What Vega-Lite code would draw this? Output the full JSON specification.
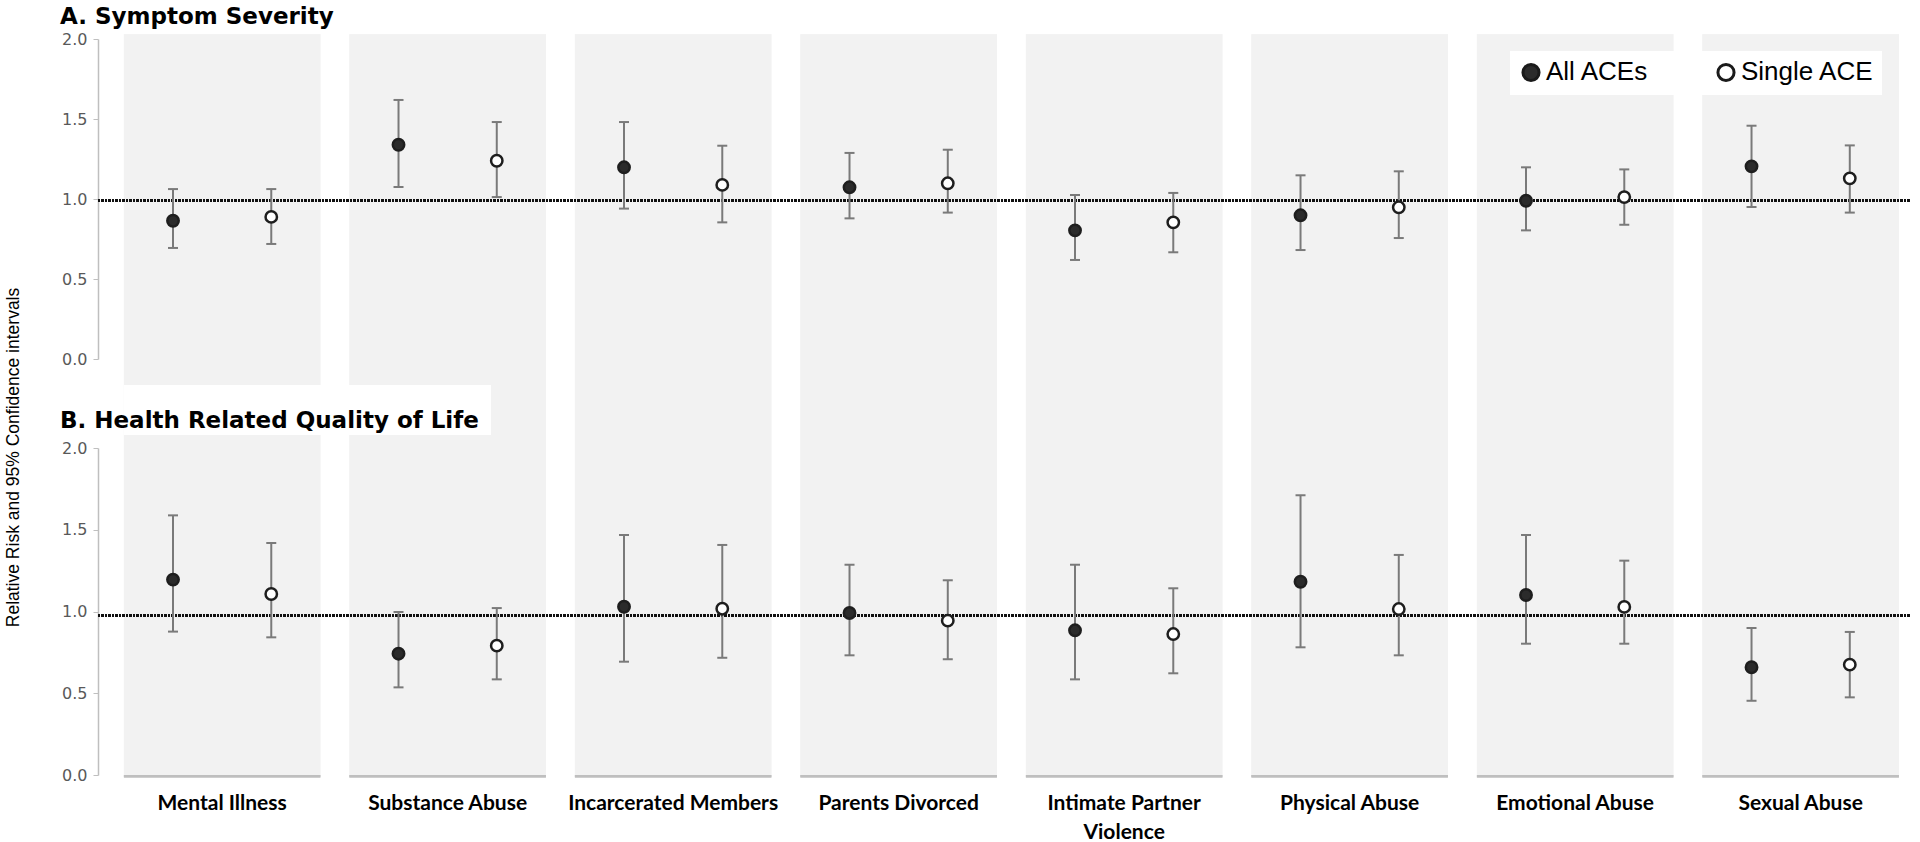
{
  "$schema": "https://vega.github.io/schema/vega-lite/v6.json",
  "autosize": {"type": "pad"},
  "padding": {"left": 4, "top": 6, "right": 0, "bottom": 0},
  "background": "white",
  "bounds": "flush",
  "spacing": 89,
  "config": {
    "view": {"stroke": null},
    "font": "Liberation Sans",
    "axis": {"grid": false},
    "title": {"font": "DejaVu Sans", "fontWeight": "bold", "color": "black", "fontSize": 23}
  },
  "data": {"values": [
    {"panel": "A", "category": "Mental Illness", "series": "All ACEs", "rr": 0.864, "lo": 0.694, "hi": 1.062},
    {"panel": "A", "category": "Mental Illness", "series": "Single ACE", "rr": 0.888, "lo": 0.719, "hi": 1.062},
    {"panel": "A", "category": "Substance Abuse", "series": "All ACEs", "rr": 1.339, "lo": 1.075, "hi": 1.619},
    {"panel": "A", "category": "Substance Abuse", "series": "Single ACE", "rr": 1.239, "lo": 1.012, "hi": 1.481},
    {"panel": "A", "category": "Incarcerated Members", "series": "All ACEs", "rr": 1.198, "lo": 0.94, "hi": 1.481},
    {"panel": "A", "category": "Incarcerated Members", "series": "Single ACE", "rr": 1.088, "lo": 0.854, "hi": 1.333},
    {"panel": "A", "category": "Parents Divorced", "series": "All ACEs", "rr": 1.073, "lo": 0.879, "hi": 1.288},
    {"panel": "A", "category": "Parents Divorced", "series": "Single ACE", "rr": 1.098, "lo": 0.915, "hi": 1.308},
    {"panel": "A", "category": "Intimate Partner Violence", "series": "All ACEs", "rr": 0.804, "lo": 0.619, "hi": 1.025},
    {"panel": "A", "category": "Intimate Partner Violence", "series": "Single ACE", "rr": 0.854, "lo": 0.667, "hi": 1.038},
    {"panel": "A", "category": "Physical Abuse", "series": "All ACEs", "rr": 0.898, "lo": 0.681, "hi": 1.148},
    {"panel": "A", "category": "Physical Abuse", "series": "Single ACE", "rr": 0.948, "lo": 0.756, "hi": 1.173},
    {"panel": "A", "category": "Emotional Abuse", "series": "All ACEs", "rr": 0.989, "lo": 0.804, "hi": 1.198},
    {"panel": "A", "category": "Emotional Abuse", "series": "Single ACE", "rr": 1.012, "lo": 0.839, "hi": 1.185},
    {"panel": "A", "category": "Sexual Abuse", "series": "All ACEs", "rr": 1.204, "lo": 0.95, "hi": 1.458},
    {"panel": "A", "category": "Sexual Abuse", "series": "Single ACE", "rr": 1.129, "lo": 0.915, "hi": 1.335},
    {"panel": "B", "category": "Mental Illness", "series": "All ACEs", "rr": 1.195, "lo": 0.877, "hi": 1.588},
    {"panel": "B", "category": "Mental Illness", "series": "Single ACE", "rr": 1.107, "lo": 0.842, "hi": 1.419},
    {"panel": "B", "category": "Substance Abuse", "series": "All ACEs", "rr": 0.742, "lo": 0.536, "hi": 0.997},
    {"panel": "B", "category": "Substance Abuse", "series": "Single ACE", "rr": 0.791, "lo": 0.585, "hi": 1.021},
    {"panel": "B", "category": "Incarcerated Members", "series": "All ACEs", "rr": 1.029, "lo": 0.693, "hi": 1.468},
    {"panel": "B", "category": "Incarcerated Members", "series": "Single ACE", "rr": 1.017, "lo": 0.717, "hi": 1.407},
    {"panel": "B", "category": "Parents Divorced", "series": "All ACEs", "rr": 0.991, "lo": 0.732, "hi": 1.286},
    {"panel": "B", "category": "Parents Divorced", "series": "Single ACE", "rr": 0.944, "lo": 0.708, "hi": 1.191},
    {"panel": "B", "category": "Intimate Partner Violence", "series": "All ACEs", "rr": 0.885, "lo": 0.585, "hi": 1.286},
    {"panel": "B", "category": "Intimate Partner Violence", "series": "Single ACE", "rr": 0.862, "lo": 0.622, "hi": 1.142},
    {"panel": "B", "category": "Physical Abuse", "series": "All ACEs", "rr": 1.182, "lo": 0.781, "hi": 1.711},
    {"panel": "B", "category": "Physical Abuse", "series": "Single ACE", "rr": 1.015, "lo": 0.732, "hi": 1.346},
    {"panel": "B", "category": "Emotional Abuse", "series": "All ACEs", "rr": 1.101, "lo": 0.803, "hi": 1.468},
    {"panel": "B", "category": "Emotional Abuse", "series": "Single ACE", "rr": 1.028, "lo": 0.803, "hi": 1.311},
    {"panel": "B", "category": "Sexual Abuse", "series": "All ACEs", "rr": 0.659, "lo": 0.454, "hi": 0.899},
    {"panel": "B", "category": "Sexual Abuse", "series": "Single ACE", "rr": 0.675, "lo": 0.475, "hi": 0.875}
  ]},
  "vconcat": [
    {
      "width": 1812,
      "height": 320,
      "title": {"text": "A. Symptom Severity", "anchor": "start", "frame": "group", "dx": -38, "offset": 2},
      "transform": [{"filter": "datum.panel === 'A'"}],
      "encoding": {
        "x": {"field": "category", "type": "nominal",
              "sort": ["Mental Illness", "Substance Abuse", "Incarcerated Members", "Parents Divorced", "Intimate Partner Violence", "Physical Abuse", "Emotional Abuse", "Sexual Abuse"],
              "scale": {"paddingInner": 0.1286, "paddingOuter": 0.082, "align": 0.7}, "axis": null}
      },
      "layer": [
        {
          "mark": {"type": "bar", "color": "#f2f2f2"},
          "encoding": {
            "y": {"datum": 2.03, "type": "quantitative",
                  "scale": {"domain": [0, 2], "nice": false},
                  "axis": {"values": [0, 0.5, 1, 1.5, 2], "format": ".1f", "domainColor": "#bfbfbf", "domainWidth": 1.5,
                           "tickColor": "#bfbfbf", "tickSize": 5, "labelColor": "#595959", "labelFont": "DejaVu Sans", "labelFontSize": 16, "labelPadding": 6,
                           "title": "Relative Risk and 95% Confidence intervals", "titleFontSize": 17.5, "titleFontWeight": "normal",
                           "titleColor": "black", "titleX": -76, "titleY": 418}},
            "y2": {"datum": -0.1625}
          }
        },
        {
          "mark": {"type": "rule", "color": "#111111", "strokeDash": [2, 1.5], "strokeWidth": 2},
          "encoding": {"y": {"datum": 0.99, "type": "quantitative"}, "x": {"value": 0}, "x2": {"value": 1812}}
        },
        {
          "mark": {"type": "rule", "color": "#7a7a7a", "strokeWidth": 2},
          "encoding": {
            "xOffset": {"field": "series", "type": "nominal", "scale": {"paddingInner": 0, "paddingOuter": 0}},
            "y": {"field": "lo", "type": "quantitative"}, "y2": {"field": "hi"}
          }
        },
        {
          "mark": {"type": "tick", "color": "#7a7a7a", "thickness": 2, "size": 10, "orient": "horizontal", "opacity": 1},
          "encoding": {
            "xOffset": {"field": "series", "type": "nominal", "scale": {"paddingInner": 0, "paddingOuter": 0}},
            "y": {"field": "hi", "type": "quantitative"}
          }
        },
        {
          "mark": {"type": "tick", "color": "#7a7a7a", "thickness": 2, "size": 10, "orient": "horizontal", "opacity": 1},
          "encoding": {
            "xOffset": {"field": "series", "type": "nominal", "scale": {"paddingInner": 0, "paddingOuter": 0}},
            "y": {"field": "lo", "type": "quantitative"}
          }
        },
        {
          "mark": {"type": "point", "filled": true, "size": 130, "stroke": "#1e1e1e", "strokeWidth": 2.5, "opacity": 1},
          "encoding": {
            "xOffset": {"field": "series", "type": "nominal", "scale": {"paddingInner": 0, "paddingOuter": 0}},
            "y": {"field": "rr", "type": "quantitative"},
            "fill": {"field": "series", "type": "nominal",
                     "scale": {"domain": ["All ACEs", "Single ACE"], "range": ["#2b2b2b", "#ffffff"]},
                     "legend": {"orient": "none", "legendX": 1412, "legendY": 12, "direction": "horizontal", "title": null,
                                "fillColor": "white", "padding": 8, "columnPadding": 62, "labelFontSize": 26,
                                "labelFont": "Liberation Sans", "labelColor": "black", "labelOffset": 2,
                                "symbolType": "circle", "symbolSize": 260, "symbolStrokeColor": "#1a1a1a", "symbolStrokeWidth": 3}}
          }
        }
      ]
    },
    {
      "width": 1812,
      "height": 327,
      "title": {"text": "B. Health Related Quality of Life", "anchor": "start", "frame": "group", "dx": -38, "offset": -48},
      "transform": [{"filter": "datum.panel === 'B'"}],
      "encoding": {
        "x": {"field": "category", "type": "nominal",
              "sort": ["Mental Illness", "Substance Abuse", "Incarcerated Members", "Parents Divorced", "Intimate Partner Violence", "Physical Abuse", "Emotional Abuse", "Sexual Abuse"],
              "scale": {"paddingInner": 0.1286, "paddingOuter": 0.082, "align": 0.7},
              "axis": {"title": null, "domain": false, "ticks": false, "labelAngle": 0, "labelPadding": 17,
                       "labelFont": "Lato", "labelFontWeight": "bold",
                       "labelFontSize": 21, "labelColor": "black", "labelLimit": 400, "labelLineHeight": 29,
                       "labelExpr": "datum.value == 'Intimate Partner Violence' ? ['Intimate Partner', 'Violence'] : datum.value"}}
      },
      "layer": [
        {
          "mark": {"type": "bar", "color": "#f2f2f2"},
          "encoding": {
            "y": {"datum": 2.385, "type": "quantitative",
                  "scale": {"domain": [0, 2], "nice": false},
                  "axis": {"values": [0, 0.5, 1, 1.5, 2], "format": ".1f", "domainColor": "#bfbfbf", "domainWidth": 1.5,
                           "tickColor": "#bfbfbf", "tickSize": 5, "labelColor": "#595959", "labelFont": "DejaVu Sans", "labelFontSize": 16, "labelPadding": 6,
                           "title": null}},
            "y2": {"datum": 0}
          }
        },
        {
          "mark": {"type": "bar", "color": "#bfbfbf"},
          "encoding": {"y": {"datum": 0, "type": "quantitative"}, "y2": {"datum": -0.015}}
        },
        {
          "mark": {"type": "rect", "color": "white"},
          "encoding": {
            "x": {"datum": "Mental Illness", "bandPosition": 0},
            "x2": {"datum": "Substance Abuse", "bandPosition": 0.72},
            "y": {"datum": 2.385, "type": "quantitative"},
            "y2": {"datum": 2.08}
          }
        },
        {
          "mark": {"type": "rule", "color": "#111111", "strokeDash": [2, 1.5], "strokeWidth": 2},
          "encoding": {"y": {"datum": 0.975, "type": "quantitative"}, "x": {"value": 0}, "x2": {"value": 1812}}
        },
        {
          "mark": {"type": "rule", "color": "#7a7a7a", "strokeWidth": 2},
          "encoding": {
            "xOffset": {"field": "series", "type": "nominal", "scale": {"paddingInner": 0, "paddingOuter": 0}},
            "y": {"field": "lo", "type": "quantitative"}, "y2": {"field": "hi"}
          }
        },
        {
          "mark": {"type": "tick", "color": "#7a7a7a", "thickness": 2, "size": 10, "orient": "horizontal", "opacity": 1},
          "encoding": {
            "xOffset": {"field": "series", "type": "nominal", "scale": {"paddingInner": 0, "paddingOuter": 0}},
            "y": {"field": "hi", "type": "quantitative"}
          }
        },
        {
          "mark": {"type": "tick", "color": "#7a7a7a", "thickness": 2, "size": 10, "orient": "horizontal", "opacity": 1},
          "encoding": {
            "xOffset": {"field": "series", "type": "nominal", "scale": {"paddingInner": 0, "paddingOuter": 0}},
            "y": {"field": "lo", "type": "quantitative"}
          }
        },
        {
          "mark": {"type": "point", "filled": true, "size": 130, "stroke": "#1e1e1e", "strokeWidth": 2.5, "opacity": 1},
          "encoding": {
            "xOffset": {"field": "series", "type": "nominal", "scale": {"paddingInner": 0, "paddingOuter": 0}},
            "y": {"field": "rr", "type": "quantitative"},
            "fill": {"field": "series", "type": "nominal",
                     "scale": {"domain": ["All ACEs", "Single ACE"], "range": ["#2b2b2b", "#ffffff"]},
                     "legend": {"orient": "none", "legendX": 1412, "legendY": 12, "direction": "horizontal", "title": null,
                                "fillColor": "white", "padding": 8, "columnPadding": 62, "labelFontSize": 26,
                                "labelFont": "Liberation Sans", "labelColor": "black", "labelOffset": 2,
                                "symbolType": "circle", "symbolSize": 260, "symbolStrokeColor": "#1a1a1a", "symbolStrokeWidth": 3}}
          }
        }
      ]
    }
  ]
}
